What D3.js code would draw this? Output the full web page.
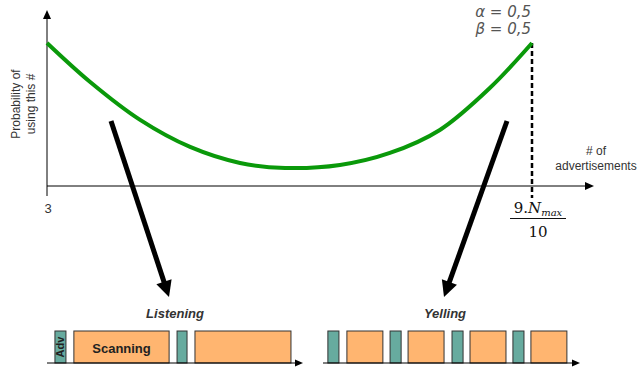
<!DOCTYPE html>
<html>
<head>
<meta charset="utf-8">
<script src="https://cdn.jsdelivr.net/npm/d3@7"></script>
<style>
  body { margin: 0; background: #fff; }
  svg { display: block; font-family: "Liberation Sans", Arial, sans-serif; }
</style>
</head>
<body>
<div id="chart"></div>
<script>
// position along the x axis, 0 = 3 adverts, 1 = 9.Nmax/10
var advPosition = [0, 0.089, 0.192, 0.295, 0.398, 0.491, 0.604, 0.707, 0.810, 0.913, 1];
// relative probability
var probability = [1, 0.727, 0.462, 0.273, 0.161, 0.126, 0.147, 0.231, 0.392, 0.685, 1];

var xTickLabels = ['3'];
var paramLabels = ['\u03b1 = 0,5', '\u03b2 = 0,5'];
var yLabelLines = ['Probability of', 'using this #'];
var xLabelLines = ['# of', 'advertisements'];

// timelines, time in % of the window
var listeningBlocks = [
  { kind: 'adv', start: 3.1, end: 7.4, label: 'Adv' },
  { kind: 'scan', start: 10.5, end: 47.7, label: 'Scanning' },
  { kind: 'adv', start: 50.8, end: 54.7, label: '' },
  { kind: 'scan', start: 57.8, end: 95.3, label: '' }
];
var yellingBlocks = [
  { kind: 'adv', start: 1.9, end: 6.2 },
  { kind: 'scan', start: 9.3, end: 23.3 },
  { kind: 'adv', start: 26.1, end: 30.4 },
  { kind: 'scan', start: 33.1, end: 47.1 },
  { kind: 'adv', start: 50.2, end: 54.5 },
  { kind: 'scan', start: 57.2, end: 71.2 },
  { kind: 'adv', start: 73.9, end: 78.2 },
  { kind: 'scan', start: 80.9, end: 94.9 }
];

var width = 639, height = 371;
var colors = { curve: '#0a990a', adv: '#67ab9f', scan: '#ffb570', edge: '#333', text: '#333' };

var svg = d3.select('#chart').append('svg')
  .attr('width', width).attr('height', height);

var x = d3.scaleLinear().domain([0, 1]).range([47, 532]);
var y = d3.scaleLinear().domain([0, 1]).range([186, 43]);

function arrowHead(g, tipX, tipY, angle, len, half) {
  // filled triangle pointing along angle (radians)
  var bx = tipX - len * Math.cos(angle), by = tipY - len * Math.sin(angle);
  var px = -Math.sin(angle) * half, py = Math.cos(angle) * half;
  g.append('path')
    .attr('d', 'M' + tipX + ',' + tipY + 'L' + (bx + px) + ',' + (by + py) + 'L' + (bx - px) + ',' + (by - py) + 'Z')
    .attr('fill', '#000');
}

// axes
var axes = svg.append('g');
axes.append('line').attr('x1', x(0)).attr('x2', x(0)).attr('y1', 196).attr('y2', 16)
  .attr('stroke', '#000').attr('stroke-width', 1);
arrowHead(axes, x(0), 10, -Math.PI / 2, 9, 4);
axes.append('line').attr('x1', x(0)).attr('x2', 588).attr('y1', y(0)).attr('y2', y(0))
  .attr('stroke', '#000').attr('stroke-width', 1);
arrowHead(axes, 594, y(0), 0, 9, 4);

// dashed marker at 9.Nmax/10
axes.append('line').attr('x1', x(1)).attr('x2', x(1)).attr('y1', y(1)).attr('y2', 198)
  .attr('stroke', '#000').attr('stroke-width', 2.5).attr('stroke-dasharray', '5,3');

// curve
var line = d3.line()
  .x(function(d, i) { return x(advPosition[i]); })
  .y(function(d) { return y(d); })
  .curve(d3.curveCatmullRom);
svg.append('path').datum(probability)
  .attr('d', line)
  .attr('fill', 'none')
  .attr('stroke', colors.curve)
  .attr('stroke-width', 4);

// labels
svg.append('text').attr('x', x(0) + 1).attr('y', 213).attr('text-anchor', 'middle')
  .attr('font-size', 13).attr('fill', colors.text).text(xTickLabels[0]);

svg.selectAll('text.ylab').data(yLabelLines).enter().append('text')
  .attr('class', 'ylab')
  .attr('transform', function(d, i) { return 'translate(' + (20 + i * 15) + ',104) rotate(-90)'; })
  .attr('text-anchor', 'middle').attr('font-size', 12).attr('fill', colors.text)
  .text(function(d) { return d; });

svg.selectAll('text.xlab').data(xLabelLines).enter().append('text')
  .attr('class', 'xlab')
  .attr('x', 596).attr('y', function(d, i) { return 155 + i * 15; })
  .attr('text-anchor', 'middle').attr('font-size', 12).attr('fill', colors.text)
  .text(function(d) { return d; });

svg.selectAll('text.param').data(paramLabels).enter().append('text')
  .attr('class', 'param')
  .attr('x', 531).attr('y', function(d, i) { return 17 + i * 17; })
  .attr('text-anchor', 'end').attr('font-size', 15)
  .attr('font-family', '"DejaVu Sans", sans-serif').attr('font-style', 'italic')
  .attr('fill', '#555')
  .text(function(d) { return d; });

// fraction 9.Nmax / 10
var frac = svg.append('g').attr('font-family', '"DejaVu Serif", "Liberation Serif", serif').attr('fill', '#111');
var num = frac.append('text').attr('x', 538).attr('y', 213).attr('text-anchor', 'middle').attr('font-size', 15);
num.append('tspan').text('9.');
num.append('tspan').attr('font-style', 'italic').text('N');
num.append('tspan').attr('font-style', 'italic').attr('font-size', 10).attr('dy', 3).text('max');
frac.append('line').attr('x1', 510).attr('x2', 566).attr('y1', 218.5).attr('y2', 218.5)
  .attr('stroke', '#111').attr('stroke-width', 1);
frac.append('text').attr('x', 538).attr('y', 237).attr('text-anchor', 'middle').attr('font-size', 15).text('10');

// big pointer arrows
var pointers = [
  { from: [111, 121], to: [169, 297] },
  { from: [507, 121], to: [444, 297] }
];
var pg = svg.append('g');
pointers.forEach(function(p) {
  var ang = Math.atan2(p.to[1] - p.from[1], p.to[0] - p.from[0]);
  var ex = p.to[0] - 12 * Math.cos(ang), ey = p.to[1] - 12 * Math.sin(ang);
  pg.append('line').attr('x1', p.from[0]).attr('y1', p.from[1]).attr('x2', ex).attr('y2', ey)
    .attr('stroke', '#000').attr('stroke-width', 5);
  arrowHead(pg, p.to[0], p.to[1], ang, 16, 8);
});

// timelines
function timeline(blocks, range, title, titleX) {
  var t = d3.scaleLinear().domain([0, 100]).range(range);
  var g = svg.append('g');
  var base = 363, top = 331;
  g.append('text').attr('x', titleX).attr('y', 318)
    .attr('text-anchor', 'middle').attr('font-size', 13).attr('font-weight', 'bold')
    .attr('font-style', 'italic').attr('fill', colors.text).text(title);
  g.selectAll('rect').data(blocks).enter().append('rect')
    .attr('x', function(d) { return t(d.start); })
    .attr('width', function(d) { return t(d.end) - t(d.start); })
    .attr('y', top).attr('height', base - top)
    .attr('fill', function(d) { return colors[d.kind]; })
    .attr('stroke', colors.edge).attr('stroke-width', 1);
  g.append('line').attr('x1', range[0]).attr('x2', range[1] - 6).attr('y1', base).attr('y2', base)
    .attr('stroke', '#000').attr('stroke-width', 1);
  arrowHead(g, range[1], base, 0, 8, 3.5);
  g.selectAll('text.blk').data(blocks.filter(function(d) { return d.label; })).enter().append('text')
    .attr('class', 'blk')
    .attr('transform', function(d) {
      var cx = (t(d.start) + t(d.end)) / 2;
      if (d.kind === 'adv') return 'translate(' + (cx + 4) + ',' + ((top + base) / 2) + ') rotate(-90)';
      return 'translate(' + cx + ',' + 353 + ')';
    })
    .attr('text-anchor', 'middle').attr('font-weight', 'bold')
    .attr('font-size', function(d) { return d.kind === 'adv' ? 11 : 13; })
    .attr('fill', '#222')
    .text(function(d) { return d.label; });
}
timeline(listeningBlocks, [47, 303], 'Listening', 175);
timeline(yellingBlocks, [323, 580], 'Yelling', 445);
</script>
</body>
</html>
